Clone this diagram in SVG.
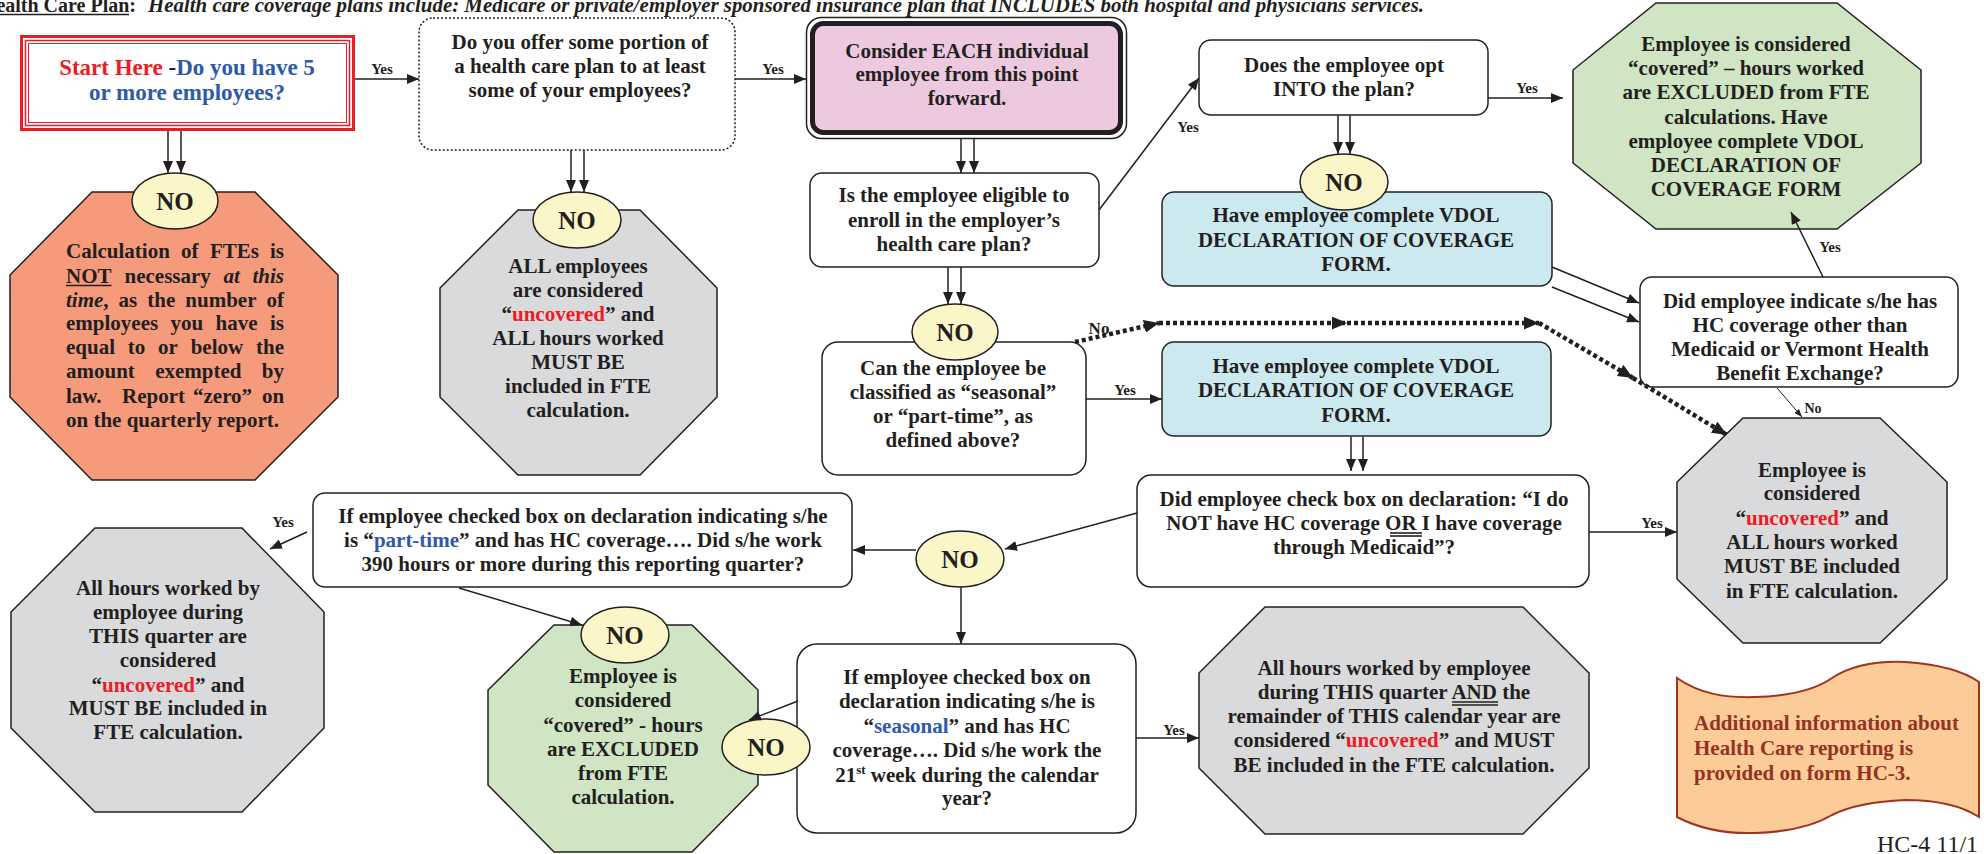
<svg xmlns="http://www.w3.org/2000/svg" width="1984" height="854" viewBox="0 0 1984 854">
<style>
.t{font-family:"Liberation Serif","Times New Roman",serif;font-weight:bold;font-size:21px;fill:#231f20;text-anchor:middle}
.l{text-anchor:start}
.bx{fill:#fff;stroke:#231f20;stroke-width:1.5}
.blu{fill:#cde9f0;stroke:#231f20;stroke-width:1.5}
.gry{fill:#d9dadc;stroke:#231f20;stroke-width:1.5}
.grn{fill:#cfe5c4;stroke:#231f20;stroke-width:1.5}
.org{fill:#f59b7c;stroke:#231f20;stroke-width:1.5}
.no{fill:#faf6c8;stroke:#231f20;stroke-width:1.5}
.notx{font-size:25px}
.red{fill:#ed1c24}
.blue{fill:#2e5aa8}
.lbl{font-size:15px}
.ln{stroke:#231f20;stroke-width:1.5;fill:none;marker-end:url(#a)}
.dot{stroke:#231f20;stroke-width:4.5;stroke-dasharray:4 3;fill:none;marker-end:url(#ad)}
.ul{stroke:#231f20;stroke-width:1.6}
</style>
<defs>
<marker id="a" markerUnits="userSpaceOnUse" markerWidth="12" markerHeight="10" refX="12" refY="5" orient="auto" viewBox="0 0 12 10"><path d="M0,0L12,5L0,10z" fill="#231f20"/></marker>
<marker id="as" markerUnits="userSpaceOnUse" markerWidth="8" markerHeight="6" refX="8" refY="3" orient="auto" viewBox="0 0 8 6"><path d="M0,0L8,3L0,6z" fill="#231f20"/></marker>
<marker id="ad" markerUnits="userSpaceOnUse" markerWidth="15" markerHeight="13" refX="15" refY="6.5" orient="auto" viewBox="0 0 15 13"><path d="M0,0L15,6.5L0,13z" fill="#231f20"/></marker>
</defs>
<rect width="1984" height="854" fill="#fff"/>

<g id="title">
<text class="t" x="136" y="12" style="font-size:20px;text-anchor:end">Health Care Plan:</text>
<line class="ul" x1="-15" y1="14.5" x2="129" y2="14.5"/>
<text class="t l" x="148" y="12" style="font-size:20px;font-style:italic" textLength="1276" lengthAdjust="spacingAndGlyphs">Health care coverage plans include:  Medicare or private/employer sponsored insurance plan that INCLUDES both hospital and physicians services.</text>
</g>

<g id="start">
<rect x="21.5" y="36.5" width="332" height="93" fill="#fff" stroke="#ed1c24" stroke-width="3"/>
<rect x="25.5" y="40.5" width="324" height="85" fill="none" stroke="#ed1c24" stroke-width="1.5"/>
<rect x="28.5" y="43.5" width="318" height="79" fill="none" stroke="#ed1c24" stroke-width="1"/>
<text class="t" x="187" y="75" style="font-size:23px"><tspan class="red">Start Here </tspan>-<tspan class="blue">Do you have 5</tspan></text>
<text class="t blue" x="187" y="100" style="font-size:23px">or more employees?</text>
</g>

<g id="offer">
<rect x="419" y="18" width="316" height="132" rx="14" fill="#fff" stroke="#231f20" stroke-width="1.5" stroke-dasharray="2 2"/>
<text class="t" x="580" y="49">Do you offer some portion of</text>
<text class="t" x="580" y="73">a health care plan to at least</text>
<text class="t" x="580" y="97">some of your employees?</text>
</g>

<g id="consider">
<rect x="806.5" y="17.5" width="320" height="121" rx="15" fill="#fff" stroke="#231f20" stroke-width="1.5"/>
<rect x="812.5" y="23.5" width="308" height="109" rx="11" fill="#ecc9df" stroke="#231f20" stroke-width="5"/>
<text class="t" x="967" y="58">Consider EACH individual</text>
<text class="t" x="967" y="81">employee from this point</text>
<text class="t" x="967" y="105">forward.</text>
</g>

<g id="optin">
<rect class="bx" x="1199" y="40" width="289" height="75" rx="12"/>
<text class="t" x="1344" y="72">Does the employee opt</text>
<text class="t" x="1344" y="96">INTO the plan?</text>
</g>

<g id="covered-top">
<polygon class="grn" points="1656,3 1837,3 1921,70 1921,163 1837,229 1656,229 1573,163 1573,70"/>
<text class="t" x="1746" y="51">Employee is considered</text>
<text class="t" x="1746" y="75">“covered” – hours worked</text>
<text class="t" x="1746" y="99">are EXCLUDED from FTE</text>
<text class="t" x="1746" y="124">calculations.  Have</text>
<text class="t" x="1746" y="148">employee complete VDOL</text>
<text class="t" x="1746" y="172">DECLARATION OF</text>
<text class="t" x="1746" y="196">COVERAGE FORM</text>
</g>

<g id="not-necessary">
<polygon class="org" points="92,192 255,192 338,275 338,397 255,480 92,480 10,397 10,275"/>
<text class="t l" y="258"><tspan x="66">Calculation</tspan><tspan x="181">of</tspan><tspan x="210">FTEs</tspan><tspan x="270">is</tspan></text>
<text class="t l" y="283"><tspan x="66">NOT</tspan><tspan x="124.5">necessary</tspan><tspan x="223.5" font-style="italic">at</tspan><tspan x="252.5" font-style="italic">this</tspan></text>
<line class="ul" x1="66" y1="285.5" x2="111.5" y2="285.5" stroke-width="2"/>
<text class="t l" y="307"><tspan x="66" font-style="italic">time</tspan>,<tspan x="118.6">as</tspan><tspan x="147.3">the</tspan><tspan x="185.3">number</tspan><tspan x="266.5">of</tspan></text>
<text class="t l" y="330"><tspan x="66">employees</tspan><tspan x="170.5">you</tspan><tspan x="215.6">have</tspan><tspan x="270">is</tspan></text>
<text class="t l" y="354"><tspan x="66">equal</tspan><tspan x="127.8">to</tspan><tspan x="158.1">or</tspan><tspan x="190.7">below</tspan><tspan x="256">the</tspan></text>
<text class="t l" y="378"><tspan x="66">amount</tspan><tspan x="155.2">exempted</tspan><tspan x="261.8">by</tspan></text>
<text class="t l" y="403"><tspan x="66">law.</tspan><tspan x="122">Report</tspan><tspan x="193">“zero”</tspan><tspan x="262">on</tspan></text>
<text class="t l" x="66" y="427">on the quarterly report.</text>
</g>

<g id="all-uncovered">
<polygon class="gry" points="518,210 640,210 717,288 717,397 640,475 518,475 440,397 440,288"/>
<text class="t" x="578" y="273">ALL employees</text>
<text class="t" x="578" y="297">are considered</text>
<text class="t" x="578" y="321">“<tspan class="red">uncovered</tspan>” and</text>
<text class="t" x="578" y="345">ALL hours worked</text>
<text class="t" x="578" y="369">MUST BE</text>
<text class="t" x="578" y="393">included in FTE</text>
<text class="t" x="578" y="417">calculation.</text>
</g>

<g id="eligible">
<rect class="bx" x="810" y="173" width="289" height="94" rx="12"/>
<text class="t" x="954" y="202">Is the employee eligible to</text>
<text class="t" x="954" y="227">enroll in the employer’s</text>
<text class="t" x="954" y="251">health care plan?</text>
</g>

<g id="vdol-1">
<rect class="blu" x="1162" y="192" width="390" height="94" rx="12"/>
<text class="t" x="1356" y="222">Have employee complete VDOL</text>
<text class="t" x="1356" y="247">DECLARATION OF COVERAGE</text>
<text class="t" x="1356" y="271">FORM.</text>
</g>

<g id="seasonal-parttime">
<rect class="bx" x="822" y="342" width="264" height="133" rx="16"/>
<text class="t" x="953" y="375">Can the employee be</text>
<text class="t" x="953" y="399">classified as “seasonal”</text>
<text class="t" x="953" y="423">or “part-time”, as</text>
<text class="t" x="953" y="447">defined above?</text>
</g>

<g id="vdol-2">
<rect class="blu" x="1162" y="342" width="389" height="94" rx="12"/>
<text class="t" x="1356" y="373">Have employee complete VDOL</text>
<text class="t" x="1356" y="397">DECLARATION OF COVERAGE</text>
<text class="t" x="1356" y="422">FORM.</text>
</g>

<g id="other-coverage">
<rect class="bx" x="1640" y="277" width="318" height="110" rx="12"/>
<text class="t" x="1800" y="308">Did employee indicate s/he has</text>
<text class="t" x="1800" y="332">HC coverage other than</text>
<text class="t" x="1800" y="356">Medicaid or Vermont Health</text>
<text class="t" x="1800" y="380">Benefit Exchange?</text>
</g>

<g id="uncovered-right">
<polygon class="gry" points="1743,418 1880,418 1947,482 1947,579 1880,643 1743,643 1677,579 1677,482"/>
<text class="t" x="1812" y="477">Employee is</text>
<text class="t" x="1812" y="500">considered</text>
<text class="t" x="1812" y="525">“<tspan class="red">uncovered</tspan>” and</text>
<text class="t" x="1812" y="549">ALL hours worked</text>
<text class="t" x="1812" y="573">MUST BE included</text>
<text class="t" x="1812" y="598">in FTE calculation.</text>
</g>

<g id="check-box">
<rect class="bx" x="1137" y="475" width="452" height="112" rx="14"/>
<text class="t" x="1364" y="506">Did employee check box on declaration: “I do</text>
<text class="t" x="1364" y="530">NOT have HC coverage OR I have coverage</text>
<line class="ul" x1="1390" y1="533" x2="1422" y2="533"/>
<line class="ul" x1="1390" y1="536" x2="1422" y2="536"/>
<text class="t" x="1364" y="554">through Medicaid”?</text>
</g>

<g id="part-time">
<rect class="bx" x="313" y="493" width="539" height="94" rx="12"/>
<text class="t" x="583" y="523">If employee checked box on declaration indicating s/he</text>
<text class="t" x="583" y="547">is “<tspan class="blue">part-time</tspan>” and has HC coverage…. Did s/he work</text>
<text class="t" x="583" y="571">390 hours or more during this reporting quarter?</text>
</g>

<g id="uncovered-quarter">
<polygon class="gry" points="95,528 242,528 324,612 324,728 242,812 95,812 11,728 11,612"/>
<text class="t" x="168" y="595">All hours worked by</text>
<text class="t" x="168" y="619">employee during</text>
<text class="t" x="168" y="643">THIS quarter are</text>
<text class="t" x="168" y="667">considered</text>
<text class="t" x="168" y="692">“<tspan class="red">uncovered</tspan>” and</text>
<text class="t" x="168" y="715">MUST BE included in</text>
<text class="t" x="168" y="739">FTE calculation.</text>
</g>

<g id="covered-bottom">
<polygon class="grn" points="554,625 692,625 758,690 758,785 692,852 554,852 488,785 488,690"/>
<text class="t" x="623" y="683">Employee is</text>
<text class="t" x="623" y="707">considered</text>
<text class="t" x="623" y="732">“covered” - hours</text>
<text class="t" x="623" y="756">are EXCLUDED</text>
<text class="t" x="623" y="780">from FTE</text>
<text class="t" x="623" y="804">calculation.</text>
</g>

<g id="seasonal">
<rect class="bx" x="797" y="644" width="339" height="189" rx="20"/>
<text class="t" x="967" y="684">If employee checked box on</text>
<text class="t" x="967" y="708">declaration indicating s/he is</text>
<text class="t" x="967" y="733">“<tspan class="blue">seasonal</tspan>” and has HC</text>
<text class="t" x="967" y="757">coverage…. Did s/he work the</text>
<text class="t" x="967" y="782">21<tspan font-size="13" dy="-8">st</tspan><tspan dy="8"> week during the calendar</tspan></text>
<text class="t" x="967" y="805">year?</text>
</g>

<g id="uncovered-year">
<polygon class="gry" points="1265,607 1523,607 1589,673 1589,768 1523,834 1265,834 1199,768 1199,673"/>
<text class="t" x="1394" y="675">All hours worked by employee</text>
<text class="t" x="1394" y="699">during THIS quarter AND the</text>
<line class="ul" x1="1452" y1="702" x2="1498" y2="702"/>
<line class="ul" x1="1452" y1="705" x2="1498" y2="705"/>
<text class="t" x="1394" y="723">remainder of THIS calendar year are</text>
<text class="t" x="1394" y="747">considered “<tspan class="red">uncovered</tspan>” and MUST</text>
<text class="t" x="1394" y="772">BE included in the FTE calculation.</text>
</g>

<g id="note">
<path d="M1677,678 C1700,694 1725,698 1755,697 C1790,696 1815,690 1832,678 C1852,665 1880,661 1905,662 C1935,664 1962,670 1979,682 L1979,817 C1962,806 1935,800 1905,800 C1880,801 1852,805 1832,815 C1815,825 1790,832 1755,833 C1725,834 1700,829 1677,817 Z" fill="#fbcc97" stroke="#a0321e" stroke-width="2"/>
<text class="t l" x="1694" y="730" style="fill:#943224">Additional information about</text>
<text class="t l" x="1694" y="755" style="fill:#943224">Health Care reporting is</text>
<text class="t l" x="1694" y="780" style="fill:#943224">provided on form HC-3.</text>
</g>

<g id="no-1"><ellipse class="no" cx="175" cy="201" rx="43" ry="28"/><text class="t notx" x="175" y="210">NO</text></g>
<g id="no-2"><ellipse class="no" cx="577" cy="220" rx="44" ry="28"/><text class="t notx" x="577" y="229">NO</text></g>
<g id="no-3"><ellipse class="no" cx="1344" cy="182" rx="44" ry="28"/><text class="t notx" x="1344" y="191">NO</text></g>
<g id="no-4"><ellipse class="no" cx="955" cy="332" rx="43" ry="28"/><text class="t notx" x="955" y="341">NO</text></g>
<g id="no-5"><ellipse class="no" cx="960" cy="559" rx="44" ry="28"/><text class="t notx" x="960" y="568">NO</text></g>
<g id="no-6"><ellipse class="no" cx="625" cy="635" rx="44" ry="28"/><text class="t notx" x="625" y="644">NO</text></g>
<g id="no-7"><ellipse class="no" cx="766" cy="747" rx="44" ry="28"/><text class="t notx" x="766" y="756">NO</text></g>

<g id="footer"><text x="1877" y="852" style="font-family:'Liberation Serif','Times New Roman',serif;font-size:24px;fill:#231f20">HC-4 11/1</text></g>

<g id="connectors">
<path class="ln" d="M355,79H419"/>
<path class="ln" d="M735,79H806"/>
<path class="ln" d="M168,131V173"/><path class="ln" d="M181,131V173"/>
<path class="ln" d="M571,150V192"/><path class="ln" d="M584,150V192"/>
<path class="ln" d="M961,139V173"/><path class="ln" d="M974,139V173"/>
<path class="ln" d="M1099,210L1199,78"/>
<path class="ln" d="M1488,98H1563"/>
<path class="ln" d="M1338,115V154"/><path class="ln" d="M1350,115V154"/>
<path class="ln" d="M948,267V304"/><path class="ln" d="M961,267V304"/>
<path class="ln" d="M1086,399H1162"/>
<path class="dot" d="M1075,342L1159,323"/>
<path class="dot" d="M1159,323H1347"/>
<path class="dot" d="M1347,323H1539"/>
<path class="dot" d="M1539,323L1633,378"/>
<path class="dot" d="M1633,378L1727,435"/>
<path class="ln" d="M1552,267L1639,303"/>
<path class="ln" d="M1552,287L1639,322"/>
<path class="ln" d="M1823,277L1791,212"/>
<path class="ln" d="M1777,388L1802,417" style="stroke-width:1;marker-end:url(#as)"/>
<path class="ln" d="M1351,437V471"/><path class="ln" d="M1363,437V471"/>
<path class="ln" d="M1589,532H1677"/>
<path class="ln" d="M1137,513L1005,549"/>
<path class="ln" d="M916,550H853"/>
<path class="ln" d="M961,587V644"/>
<path class="ln" d="M307,532L270,549"/>
<path class="ln" d="M459,588L582,625"/>
<path class="ln" d="M798,701L749,720"/>
<path class="ln" d="M1136,738H1199"/>
<text class="t lbl" x="382" y="74">Yes</text>
<text class="t lbl" x="773" y="74">Yes</text>
<text class="t lbl" x="1188" y="132">Yes</text>
<text class="t lbl" x="1527" y="93">Yes</text>
<text class="t lbl" x="1125" y="395">Yes</text>
<text class="t lbl" x="1099" y="334" style="font-size:17px">No</text>
<text class="t lbl" x="1830" y="252">Yes</text>
<text class="t lbl" x="1813" y="413" style="font-size:14px">No</text>
<text class="t lbl" x="1652" y="528">Yes</text>
<text class="t lbl" x="283" y="527">Yes</text>
<text class="t lbl" x="1174" y="735">Yes</text>
</g>
</svg>
